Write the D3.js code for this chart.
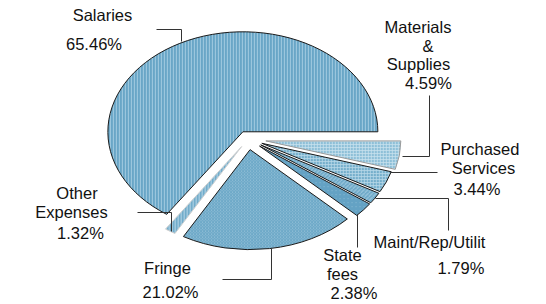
<!DOCTYPE html>
<html><head><meta charset="utf-8">
<script src="https://cdn.jsdelivr.net/npm/d3@7"></script>
<style>
html,body{margin:0;padding:0;background:#fff;}
svg{display:block;}
text{font-family:"Liberation Sans",Arial,sans-serif;font-size:16.5px;fill:#111;}
</style></head>
<body>
<svg id="chart" width="546" height="304"></svg>
<script>
// ---- data ----
const categories = ["Salaries","Other Expenses","Fringe","State fees","Maint/Rep/Utilit","Purchased Services","Materials & Supplies"];
const values = [65.46, 1.32, 21.02, 2.38, 1.79, 3.44, 4.59];
const labelLines = [
  ["Salaries","65.46%"],
  ["Other","Expenses","1.32%"],
  ["Fringe","21.02%"],
  ["State","fees","2.38%"],
  ["Maint/Rep/Utilit","1.79%"],
  ["Purchased","Services","3.44%"],
  ["Materials","&","Supplies","4.59%"]
];

// ---- layout / style (not data) ----
const W = 546, H = 304;
const cx = 248, cy = 139, rx = 135, ry = 100, k = ry / rx;
const explode = [11, 12, 14.5, 15, 15, 15, 18];
const fills = ["url(#pSal)","url(#pOth)","url(#pFri)","url(#pSta)","url(#pMai)","url(#pPur)","url(#pMat)"];
const strokes = ["#1a1a1a","#d0d0d0","#1a1a1a","#1a1a1a","#1a1a1a","#1a1a1a","#9a9a9a"];
// label line positions: [centerX, baselineY] per line
const labelPos = [
  [[102.5,21],[94,50]],
  [[77,198.5],[71.5,217.5],[80.5,238.5]],
  [[167.5,273.5],[170.5,298]],
  [[342.5,260.5],[342.5,279.5],[354,298.5]],
  [[429.5,247.5],[461,273.5]],
  [[480,155],[483.5,174],[477,194.5]],
  [[418,32.5],[428,51.5],[418.5,70],[428.5,89]]
];
const leaders = [
  [[156,29],[181,29],[181,41]],
  [[137,212],[171,212],[171,231]],
  [[271,248],[271,279],[222,279]],
  [[357,214],[357,247]],
  [[375,198],[448,198],[448,230]],
  [[390,172],[437,172]],
  [[429,95],[429,156],[402,156]]
];

const svg = d3.select("#chart");
const defs = svg.append("defs");
const inv = `scale(1,${1/k})`;

function pat(id, w, h, bg, draw) {
  const p = defs.append("pattern").attr("id", id).attr("patternUnits","userSpaceOnUse")
    .attr("width", w).attr("height", h).attr("patternTransform", inv);
  p.append("rect").attr("width", w).attr("height", h).attr("fill", bg);
  draw(p);
}
// Salaries: vertical stripes
pat("pSal", 3, 3, "#69a6c7", p => p.append("rect").attr("x",2).attr("width",1).attr("height",3).attr("fill","#a3cbe0"));
// Other: vertical stripes lighter
pat("pOth", 3, 3, "#72acca", p => p.append("rect").attr("x",2).attr("width",1).attr("height",3).attr("fill","#b6d6e7"));
// Fringe: fine dots / crosshatch
pat("pFri", 3, 3, "#6ea9c8", p => {
  p.append("rect").attr("x",0).attr("y",0).attr("width",1).attr("height",1).attr("fill","#a6cce0");
  p.append("rect").attr("x",1.5).attr("y",1.5).attr("width",1).attr("height",1).attr("fill","#8dbdd6");
});
// State fees: mostly solid
pat("pSta", 4, 4, "#64a2c4", p => p.append("rect").attr("x",0).attr("y",0).attr("width",1).attr("height",1).attr("fill","#84b6d1"));
// Maint: diagonal hatch
pat("pMai", 4, 4, "#6ea9c8", p => p.append("path").attr("d","M0,4L4,0").attr("stroke","#a3cbe0").attr("stroke-width",1));
// Purchased: grid
pat("pPur", 3, 3, "#74aecb", p => {
  p.append("rect").attr("x",0).attr("y",0).attr("width",3).attr("height",0.8).attr("fill","#b8d8e8");
  p.append("rect").attr("x",0).attr("y",0).attr("width",0.8).attr("height",3).attr("fill","#b8d8e8");
});
// Materials: light grid
pat("pMat", 3, 3, "#8dbfd8", p => {
  p.append("rect").attr("x",0).attr("y",0).attr("width",3).attr("height",0.8).attr("fill","#c9e2ee");
  p.append("rect").attr("x",0).attr("y",0).attr("width",0.8).attr("height",3).attr("fill","#c9e2ee");
});

const pie = d3.pie().sort(null).value(d => d)
  .startAngle(Math.PI / 2).endAngle(Math.PI / 2 - 2 * Math.PI);
const arcs = pie(values);
const arc = d3.arc().innerRadius(0).outerRadius(rx);

const g = svg.append("g").attr("transform", `translate(${cx},${cy}) scale(1,${k})`);
g.selectAll("path.slice").data(arcs).join("path")
  .attr("class","slice")
  .attr("transform", (d, i) => {
    const m = (d.startAngle + d.endAngle) / 2;
    return `translate(${explode[i] * Math.sin(m)},${-explode[i] * Math.cos(m)})`;
  })
  .attr("d", arc)
  .attr("fill", (d, i) => fills[i])
  .attr("stroke", (d, i) => strokes[i])
  .attr("stroke-width", 1)
  .attr("stroke-linejoin","miter")
  .attr("vector-effect","non-scaling-stroke");

// leader lines
const line = d3.line();
svg.append("g").selectAll("path").data(leaders).join("path")
  .attr("d", d => line(d.map(p => [Math.round(p[0]) + 0.5, Math.round(p[1]) + 0.5])))
  .attr("fill","none").attr("stroke","#333").attr("stroke-width",1);

// labels
const lg = svg.append("g");
labelLines.forEach((lines, i) => {
  lines.forEach((t, j) => {
    lg.append("text").attr("x", labelPos[i][j][0]).attr("y", labelPos[i][j][1])
      .attr("text-anchor","middle").text(t);
  });
});
</script>
</body></html>
